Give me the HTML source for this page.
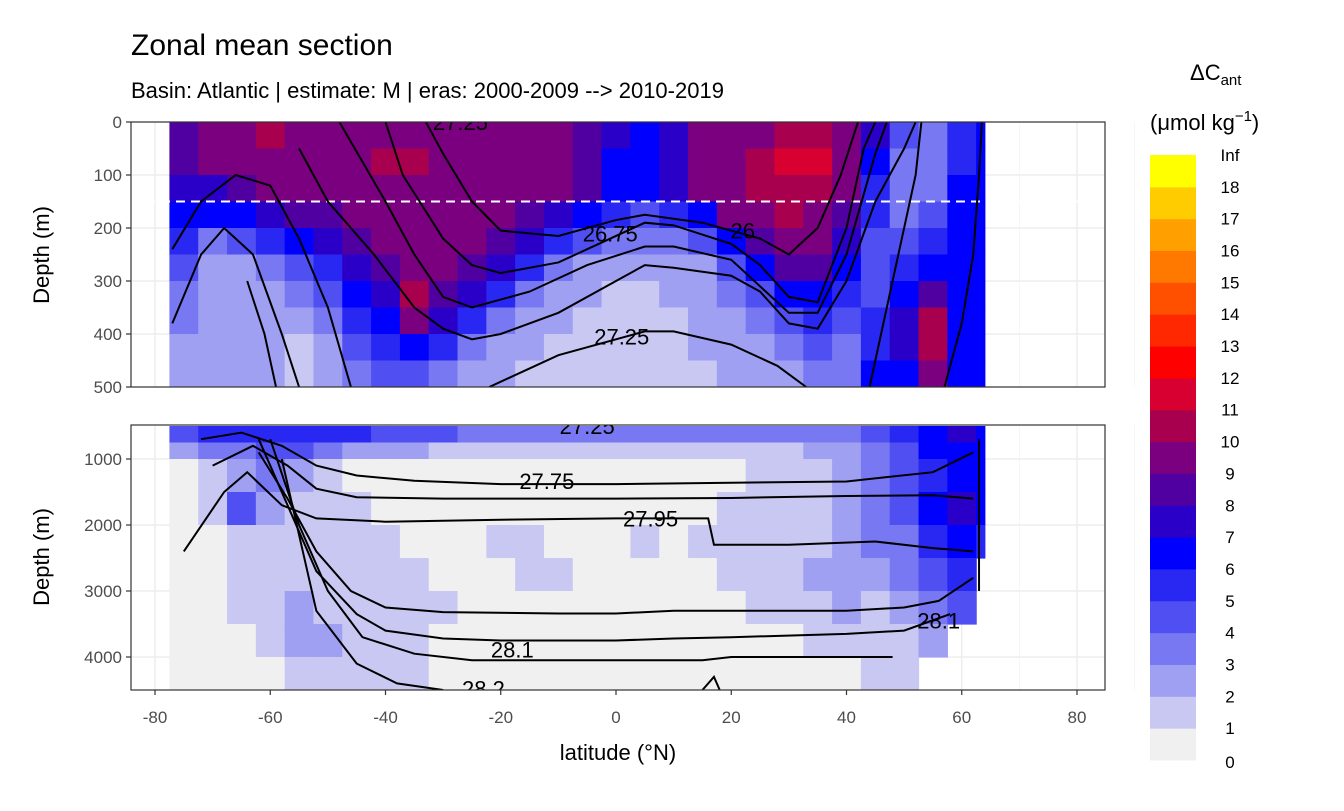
<!DOCTYPE html>
<html><head><meta charset="utf-8"><style>
body{margin:0;background:#fff;}
svg text{font-family:"Liberation Sans",sans-serif;}
</style></head><body>
<svg id="c" width="1344" height="806" xmlns="http://www.w3.org/2000/svg">
<text x="131" y="55" font-size="30" fill="#000">Zonal mean section</text>
<text x="131" y="98" font-size="22" fill="#000">Basin: Atlantic | estimate: M  | eras: 2000-2009 --&gt; 2010-2019</text>
<text transform="translate(49,255) rotate(-90)" text-anchor="middle" font-size="22">Depth (m)</text>
<text transform="translate(49,557) rotate(-90)" text-anchor="middle" font-size="22">Depth (m)</text>
<text x="618" y="760" text-anchor="middle" font-size="22">latitude (°N)</text>
<text x="1190" y="80" font-size="22">ΔC<tspan font-size="15" dy="5">ant</tspan></text>
<text x="1150" y="130" font-size="22">(μmol kg<tspan font-size="15" dy="-9">−1</tspan><tspan dy="9">)</tspan></text>
<g id="top"></g>
<g id="bot"></g>
<g id="legend"></g>
<g id="xaxis"></g>
</svg>
<script>
const NS="http://www.w3.org/2000/svg";
const colors=["#f0f0f0","#c8c8f2","#a0a0f2","#7878f2","#5050f2","#2828f2","#0000ff","#2a00c8","#5000a0","#7a0080","#a8004e","#d80030","#ff0000","#ff2800","#ff5000","#ff7800","#ffa000","#ffcc00","#ffff00"];
const legendLabels=["0","1","2","3","4","5","6","7","8","9","10","11","12","13","14","15","16","17","18","Inf"];
const latEdges=[-77.5,-72.5,-67.5,-62.5,-57.5,-52.5,-47.5,-42.5,-37.5,-32.5,-27.5,-22.5,-17.5,-12.5,-7.5,-2.5,2.5,7.5,12.5,17.5,22.5,27.5,32.5,37.5,42.5,47.5,52.5,57.5,62.5,64];
const topDepthEdges=[0,50,100,150,200,250,300,350,400,450,500];
const botDepthEdges=[500,750,1000,1500,2000,2500,3000,3500,4000,4500];
const topVals=[
[8,8,7,6,5,4,3,3,2,2],[9,9,7,6,3,2,2,2,2,2],[9,9,8,6,4,2,2,2,2,2],[10,9,9,7,5,3,2,2,2,2],[9,9,9,8,6,4,3,2,1,1],[9,9,9,8,7,5,4,3,2,2],[9,9,9,9,8,7,6,5,4,3],[9,10,9,9,9,8,7,6,5,4],[9,10,9,9,9,9,10,9,6,4],[9,9,9,9,9,9,8,7,5,3],[9,9,9,9,9,8,7,5,3,2],[9,9,9,9,8,7,5,3,2,2],[9,9,9,8,7,5,3,2,2,1],[9,9,9,7,5,3,2,2,1,1],[8,8,8,6,4,2,2,1,1,1],[7,6,6,5,3,2,1,1,1,1],[6,6,6,4,3,2,1,1,1,1],[7,7,7,5,3,2,2,1,1,1],[9,9,9,6,4,2,2,2,2,1],[9,9,9,9,6,4,3,2,2,2],[9,10,10,9,8,6,4,3,2,2],[10,11,10,10,9,8,6,4,3,2],[10,11,10,9,9,8,6,5,4,3],[9,9,9,8,7,6,5,4,3,3],[7,6,5,5,4,4,4,5,5,6],[4,3,3,3,4,5,6,7,7,6],[3,3,3,4,5,6,8,10,10,9],[5,5,6,6,6,6,6,6,6,6],[6,6,6,6,6,6,6,6,6,6]];
const botVals=[
[4,2,0,0,0,0,0,0,0],[5,3,1,1,0,0,0,0,0],[5,3,2,4,1,1,1,0,0],[5,4,3,2,1,1,1,1,0],[5,4,2,1,1,1,2,2,1],[5,3,1,1,1,1,1,2,1],[5,2,0,1,1,1,1,1,1],[4,2,0,0,1,1,1,1,1],[4,2,0,0,0,1,1,1,1],[4,1,0,0,0,0,1,0,0],[3,1,0,0,0,0,0,0,0],[3,1,0,0,1,0,0,0,0],[3,1,0,0,1,1,0,0,0],[3,1,0,0,0,1,0,0,0],[3,1,0,0,0,0,0,0,0],[3,1,0,0,0,0,0,0,0],[3,1,0,0,1,0,0,0,0],[3,1,0,0,0,0,0,0,0],[3,1,0,0,1,0,0,0,0],[3,1,0,1,1,1,0,0,0],[3,1,1,1,1,1,1,0,0],[3,1,1,1,1,1,1,0,0],[3,2,1,1,1,2,1,1,0],[3,2,2,2,2,2,2,1,0],[4,3,3,3,3,2,1,1,1],[5,4,4,4,3,3,2,1,1],[6,6,5,6,5,4,3,2,null],[7,6,6,7,6,5,4,null,null],[6,6,6,6,5,null,null,null,null]];
const topContours=[
[[-33,0],[-30,60],[-25,150],[-20,205],[-10,215],[0,185],[5,175],[15,190],[25,220],[30,250],[35,200],[39,100],[42,0]],
[[-40,0],[-37,100],[-30,220],[-25,270],[-20,285],[-10,265],[0,215],[5,190],[10,195],[20,230],[25,270],[30,330],[35,340],[40,200],[43,50],[45,0]],
[[-48,0],[-40,150],[-35,250],[-30,330],[-25,350],[-15,320],[-5,270],[5,235],[10,235],[20,260],[25,310],[30,360],[35,360],[40,250],[45,60],[47,0]],
[[-55,50],[-50,150],[-42,250],[-35,350],[-30,390],[-25,410],[-20,400],[-10,360],[0,300],[5,270],[10,275],[20,290],[25,320],[30,380],[35,390],[40,300],[45,150],[50,50],[52,0]],
[[-77,240],[-72,150],[-66,100],[-60,120],[-55,220],[-50,350],[-46,500]],
[[-77,380],[-72,250],[-68,200],[-63,250],[-58,400],[-55,500]],
[[-64,300],[-61,400],[-59,500]],
[[-22,500],[-10,440],[0,410],[5,395],[10,395],[20,420],[28,460],[33,500]],
[[44,500],[48,300],[52,100],[53,0]],
[[57,500],[60,380],[62,250],[63,100],[63.5,0]]];
const botContours=[
[[-72,700],[-65,600],[-58,800],[-52,1100],[-45,1250],[-35,1330],[-20,1380],[0,1380],[20,1360],[40,1340],[55,1200],[62,900]],
[[-70,1100],[-63,800],[-57,1100],[-52,1450],[-45,1580],[-30,1600],[0,1600],[20,1590],[40,1560],[55,1550],[62,1600]],
[[-75,2400],[-68,1500],[-64,1200],[-58,1700],[-52,1900],[-40,1950],[-20,1920],[0,1900],[16,1900],[17,2300],[30,2300],[45,2250],[55,2350],[62,2400]],
[[-62,900],[-57,1600],[-52,2400],[-46,3000],[-40,3250],[-30,3320],[-10,3340],[0,3340],[10,3300],[20,3300],[40,3300],[50,3250],[56,3150],[62,2800]],
[[-62,700],[-57,1700],[-52,2700],[-45,3350],[-40,3600],[-30,3720],[-20,3750],[0,3750],[10,3720],[20,3700],[40,3650],[50,3600],[58,3350]],
[[-60,700],[-55,2000],[-50,3000],[-44,3700],[-35,3950],[-25,4050],[0,4050],[15,4050],[20,4000],[40,4000],[48,4000]],
[[-58,1000],[-52,3300],[-45,4100],[-38,4400],[-30,4500]],
[[15,4500],[17,4300],[18,4500]],
[[63,700],[63,3000]]];
const topLabels=[[-27,0,"27.25"],[22,205,"26"],[-1,210,"26.75"],[1,405,"27.25"]];
const botLabels=[[-12,1330,"27.75"],[6,1900,"27.95"],[-18,3890,"28.1"],[56,3450,"28.1"],[-23,4480,"28.2"],[-5,500,"27.25"]];
const xTicks=[-80,-60,-40,-20,0,20,40,60,80];
const topTicks=[0,100,200,300,400,500];
const botTicks=[1000,2000,3000,4000];

const L=131,R=1105;
const x=lat=>616+lat*5.7625;
const yTop=d=>122+d*0.53;
const yBot=d=>459+(d-1000)*0.066;
function el(tag,attrs,parent){const e=document.createElementNS(NS,tag);for(const k in attrs)e.setAttribute(k,attrs[k]);parent.appendChild(e);return e;}
const svg=document.getElementById('c');
const defs=el('defs',{},svg);
function panel(g,y0,y1,ticks,yf,edges,vals,contours,labels,id,dashed){
  const cp=el('clipPath',{id:id},defs);el('rect',{x:L,y:y0,width:R-L,height:y1-y0},cp);
  const bg=el('rect',{x:L,y:y0,width:R-L,height:y1-y0,fill:"#fff"},g);
  
  
  const grid=el('g',{},g);
  xTicks.forEach((t,i)=>{el('line',{x1:x(t),x2:x(t),y1:y0,y2:y1,stroke:"#ebebeb","stroke-width":1.3},grid);el('line',{x1:x(t+10),x2:x(t+10),y1:y0,y2:y1,stroke:"#f3f3f3","stroke-width":0.7},grid);});
  ticks.forEach(t=>{el('line',{x1:L,x2:R,y1:yf(t),y2:yf(t),stroke:"#ebebeb","stroke-width":1.3},grid);});
  const cells=el('g',{"clip-path":`url(#${id})`},g);
  vals.forEach((col,i)=>{col.forEach((v,j)=>{if(v===null)return;
    const r=el('rect',{x:x(latEdges[i]),y:yf(edges[j]),width:x(latEdges[i+1])-x(latEdges[i])+0.6,height:yf(edges[j+1])-yf(edges[j])+0.6,fill:colors[Math.min(v,18)]},cells);
    
    
  });});
  if(dashed){const d=el('line',{x1:L,x2:R,y1:yf(150),y2:yf(150),stroke:"#fff","stroke-width":2,"stroke-dasharray":"9,6"},cells);}
  contours.forEach(c=>{const p=el('polyline',{points:c.map(q=>x(q[0])+","+yf(q[1])).join(" "),fill:"none",stroke:"#000","stroke-width":2},cells);
    
    });
  labels.forEach(l=>{const t=el('text',{x:x(l[0]),y:yf(l[1])+8,"text-anchor":"middle","font-size":22,fill:"#000"},cells);t.textContent=l[2];
    
    });
  el('rect',{x:L,y:y0,width:R-L,height:y1-y0,fill:"none",stroke:"#333","stroke-width":1.2},g);
  ticks.forEach(t=>{el('line',{x1:L-5,x2:L,y1:yf(t),y2:yf(t),stroke:"#333","stroke-width":1.2},g);
    const tx=el('text',{x:L-9,y:yf(t)+6,"text-anchor":"end","font-size":17,fill:"#4d4d4d"},g);tx.textContent=t;
    
    });
}
panel(document.getElementById('top'),122,387,topTicks,yTop,topDepthEdges,topVals,topContours,topLabels,"cpt",true);
panel(document.getElementById('bot'),425,690,botTicks,yBot,botDepthEdges,botVals,botContours,botLabels,"cpb",false);
const xa=document.getElementById('xaxis');
xTicks.forEach(t=>{el('line',{x1:x(t),x2:x(t),y1:690,y2:695,stroke:"#333","stroke-width":1.2},xa);
  const tx=el('text',{x:x(t),y:723,"text-anchor":"middle","font-size":17,fill:"#4d4d4d"},xa);tx.textContent=t;
  
  });
const lg=document.getElementById('legend');
const lTop=155,lBot=760,h=(lBot-lTop)/19;
colors.forEach((c,i)=>{const r=el('rect',{x:1150,y:lBot-(i+1)*h,width:46,height:h+0.5,fill:c},lg);
  
  });
legendLabels.forEach((s,i)=>{const t=el('text',{x:1230,y:lBot-i*h+6+(i===0?2:0),"text-anchor":"middle","font-size":17,fill:"#000"},lg);t.textContent=s;
  
  });
</script>
</body></html>
